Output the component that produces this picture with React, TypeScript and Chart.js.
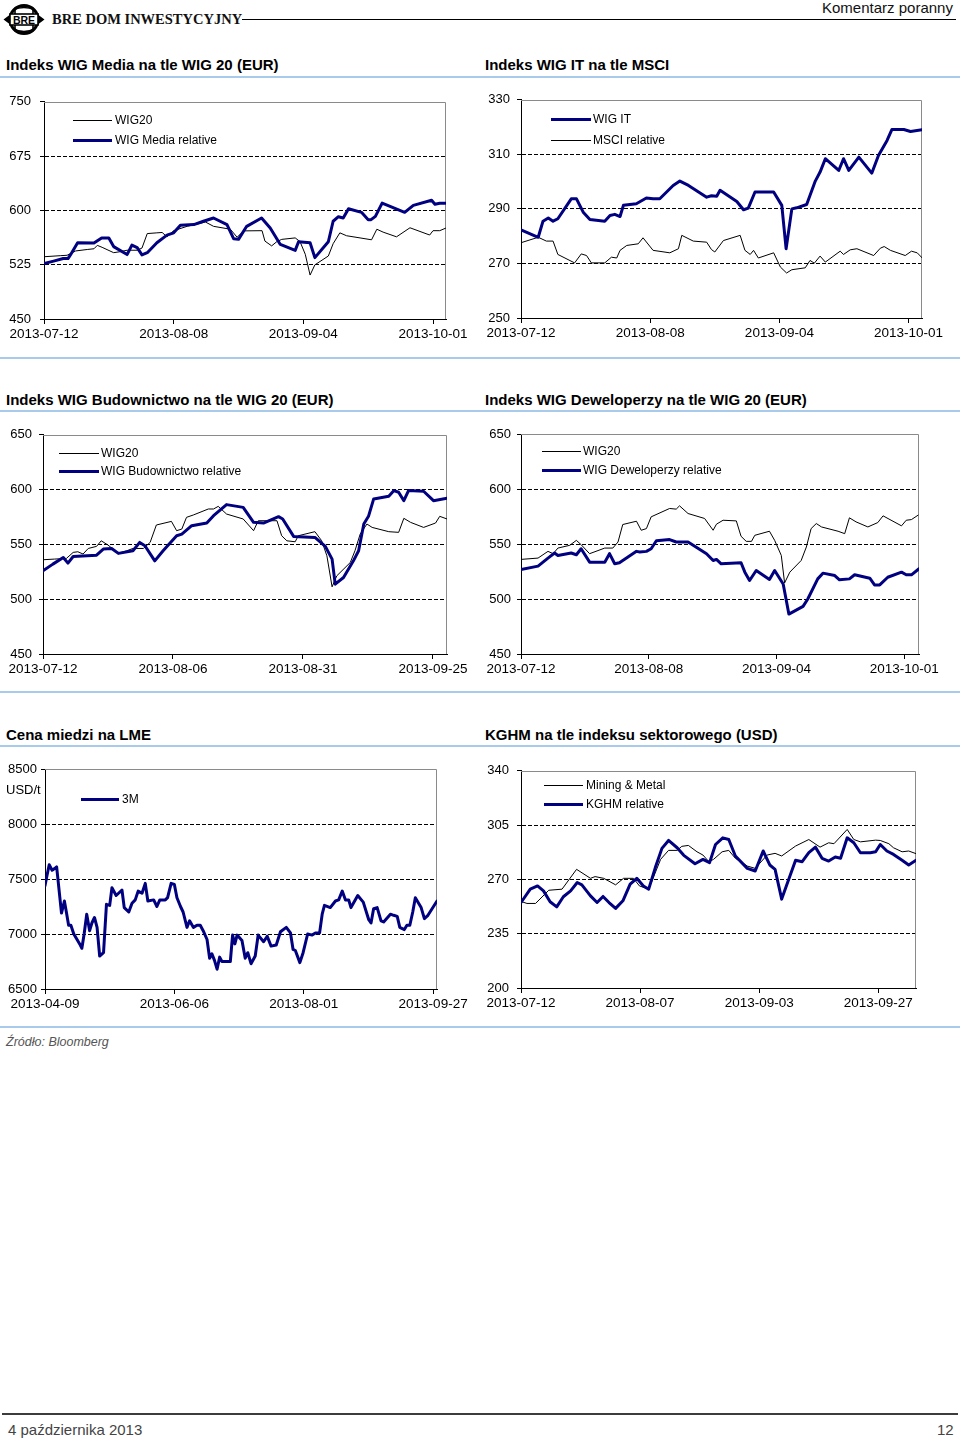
import React, { useEffect, useRef } from 'react';
import { Chart, registerables } from 'chart.js';

Chart.register(...registerables);

const FONT = '"Liberation Sans", Arial, Helvetica, sans-serif';
const NAVY = '#000080';
const BLACK = '#000000';

// ---------------- DATA ----------------
// x = day offset from first date on the axis, y = value
type Pt = [number, number];

// Chart 1: WIG Media vs WIG20 (EUR)
const mediaTickPos = [0, 27, 54, 81];
const mediaTickLabels = ['2013-07-12', '2013-08-08', '2013-09-04', '2013-10-01'];
const mediaYTicks = [450, 525, 600, 675, 750];
const mediaWig20: Pt[] = [
  [0, 536], [3.5, 537.5], [4.8, 538], [6.6, 544], [9, 546], [10.4, 547], [11.1, 551.7], [12.1, 549], [14.5, 541.6], [15.9, 543],
  [17.3, 545], [19.4, 545], [20.4, 548], [21.5, 568], [23.5, 569], [24.6, 569.5], [25.6, 563.5], [27, 572], [29.8, 578], [32.5, 582],
  [33.6, 584], [35.3, 578], [38.8, 574], [40.2, 563], [41.6, 571.7], [45.4, 572], [46, 557.6], [47.4, 551], [48.5, 557], [49.5, 560],
  [52.3, 562], [53.3, 557], [54.4, 539.4], [55.4, 510.7], [56.4, 524.8], [59.2, 537], [60.2, 554], [61.6, 569], [63, 565], [65.8, 562],
  [68.2, 559.4], [69.3, 574], [70.6, 570], [73.4, 563.5], [76.2, 576], [80.3, 566], [81, 572], [82.4, 572], [83.6, 575.4],
];
const mediaRelative: Pt[] = [
  [0, 526.6], [2, 530], [4, 533.5], [5, 533.5], [5.5, 538.5], [7, 555.3], [10.4, 555], [12, 562], [13.5, 562], [14.5, 550],
  [17.3, 539], [18.3, 552], [19.4, 548.5], [20.4, 538.5], [21.5, 541.6], [23.5, 555.3], [25.6, 565.8], [27, 569], [28.4, 579.5], [31.2, 580.4],
  [33.2, 585], [35.3, 589.5], [38.1, 580.4], [39.5, 560.8], [40.5, 560], [42.2, 578], [45.3, 589.5], [47.1, 575.8], [49.2, 553], [52.3, 544.8],
  [53, 556.7], [55.4, 555.3], [56.4, 534.8], [59.2, 556.7], [60.2, 585], [61.3, 591.3], [62.3, 589.5], [63.4, 602.3], [66.1, 597.3], [67.5, 587.2],
  [68.1, 587.2], [69, 591.8], [70.4, 610], [75.1, 597.3], [76.9, 607], [80.7, 614.1], [81.4, 608.6], [82.4, 610], [83.6, 610],
];

// Chart 2: WIG IT vs MSCI
const itTickPos = [0, 27, 54, 81];
const itTickLabels = ['2013-07-12', '2013-08-08', '2013-09-04', '2013-10-01'];
const itYTicks = [250, 270, 290, 310, 330];
const wigIt: Pt[] = [
  [0, 282.3], [3.6, 279.6], [4.6, 285.5], [5.7, 286.7], [6.7, 285.5], [7.7, 286.4], [10.5, 293.7], [11.6, 293.7], [13, 288.8], [14.4, 286.1],
  [17.5, 285.5], [18.6, 287.6], [19.6, 288], [20.7, 287.2], [21.4, 291.3], [24.1, 291.9], [26.2, 294], [27.6, 293.7], [29, 293.7], [31.8, 298.6],
  [33.2, 300.2], [35, 298.6], [38.8, 294.3], [39.8, 294.8], [40.9, 294.6], [41.6, 296.8], [45.1, 292.7], [46.5, 289.7], [47.5, 290.3], [48.9, 296.2],
  [52.8, 296.2], [54.5, 291.3], [55.4, 275.4], [56.6, 290], [57.6, 290.4], [59.7, 291.6], [61.5, 300.2], [62.5, 303.5], [63.6, 308.4], [66.4, 304.1],
  [67.4, 308.4], [68.5, 304.1], [70.6, 309], [73.3, 303.1], [74.7, 309.6], [76.5, 315.1], [77.5, 319.1], [80, 319.1], [81.4, 318.4], [83.8, 319],
];
const msciRelative: Pt[] = [
  [0, 277.6], [3.6, 279.6], [5.3, 278.2], [6.7, 278.2], [7.7, 273.3], [11.2, 270.2], [12.6, 273.5], [13.7, 272.9], [14.7, 270.2], [17.5, 270.2],
  [18.9, 272.3], [20, 272], [20.7, 274.8], [22.1, 276.6], [24.5, 277.2], [25.5, 279.4], [27.6, 274.8], [31.1, 273.9], [32.9, 275.4], [33.6, 280.3],
  [36, 278.2], [38.8, 277.8], [39.8, 275.1], [40.5, 274.2], [42.3, 278.4], [45.8, 280.3], [46.8, 274.8], [47.9, 273.3], [48.6, 274.8], [49.6, 272],
  [52.8, 273.9], [54.2, 268.7], [55.5, 266.5], [56.6, 267.7], [59.4, 268.4], [60.4, 271.1], [61.3, 270.1], [62.5, 272.7], [63.6, 270.5], [66.7, 274.5],
  [67.4, 273.3], [68.8, 275], [70.2, 275.4], [73.7, 272.9], [75.1, 275.6], [75.9, 276.2], [77.2, 274.8], [80.3, 272.9], [81.6, 274.5], [82.8, 273.9],
  [83.8, 272.1],
];

// Chart 3: WIG Budownictwo vs WIG20 (EUR)
const budTickPos = [0, 25, 50, 75];
const budTickLabels = ['2013-07-12', '2013-08-06', '2013-08-31', '2013-09-25'];
const budYTicks = [450, 500, 550, 600, 650];
const budWig20: Pt[] = [
  [0, 536], [2.2, 536.6], [4.5, 537.2], [5.8, 542.7], [6.7, 543.3], [7.7, 541.2], [8.7, 546.3], [10.3, 548.2], [11.2, 553.3], [12.5, 549.4],
  [14.5, 541.8], [16.1, 544.2], [17.3, 546.3], [19.3, 546.3], [20.6, 551.8], [21.8, 567.7], [24.7, 571], [25.7, 562.5], [26.7, 564], [27.6, 574.7],
  [28.9, 576.8], [31.8, 582.3], [32.8, 582.3], [33.7, 584.7], [35.3, 577.7], [38.5, 573.2], [40.5, 562.5], [41.4, 571.6], [45, 571.6], [45.9, 557.9],
  [46.9, 553.3], [48.5, 552.4], [49.1, 557.9], [52.3, 561.6], [53.6, 553.3], [54.6, 539.6], [55.6, 511.3], [56.5, 521.3], [59.1, 533.5], [60, 544.2],
  [61, 559.4], [62.3, 568.6], [63.3, 565.5], [66.5, 561.6], [68.4, 561], [69.4, 573.8], [70.7, 570.1], [73.2, 565.5], [75.5, 569.5], [76.3, 575.6],
  [77.7, 573.2],
];
const budRelative: Pt[] = [
  [0, 525.9], [1.9, 532], [3.9, 538.1], [4.8, 532.9], [5.8, 539], [10.3, 540.2], [11.6, 545.7], [13.2, 546.3], [14.5, 541.8], [17.3, 544.2],
  [18.6, 551.8], [19.6, 548.8], [21.5, 535], [23.1, 544.2], [25.7, 557.9], [26.7, 559.4], [28.6, 567.1], [31.5, 569.5], [32.8, 576.2], [35.3, 586.3],
  [38.5, 583.8], [40.5, 570.1], [42.4, 569.5], [45.3, 575.3], [46.1, 573.2], [48.2, 557.3], [52.3, 556.4], [54.3, 548.2], [55.6, 536.6], [56.2, 513.7],
  [57.8, 519.8], [59.7, 535], [60.7, 544.2], [61.7, 568.6], [62.6, 575.6], [63.6, 591.5], [66.5, 593.9], [67.5, 599.1], [68.4, 597.6], [69.4, 589.9],
  [70.3, 599.1], [73.2, 598.5], [75.1, 589.9], [77.7, 592.1],
];

// Chart 4: WIG Deweloperzy vs WIG20 (EUR)
const dewTickPos = [0, 27, 54, 81];
const dewTickLabels = ['2013-07-12', '2013-08-08', '2013-09-04', '2013-10-01'];
const dewYTicks = [450, 500, 550, 600, 650];
const dewWig20: Pt[] = [
  [0, 536], [3.6, 537.2], [5.7, 543.3], [6.8, 541.2], [7.8, 546.3], [10.3, 548.8], [11.7, 553.3], [12.7, 549.4], [14.5, 541.2], [17.7, 546.3],
  [19.4, 546.3], [20.5, 551.8], [21.5, 567.7], [24.4, 570.7], [25.4, 562.5], [26.5, 564], [27.5, 574.7], [31.4, 582.3], [32.8, 581.7], [33.5, 584.7],
  [35.3, 577.7], [38.8, 573.2], [40.6, 562.5], [41.3, 568], [42.7, 571.6], [45.5, 571], [46.5, 557], [47.6, 552.4], [48.7, 552.4], [49.4, 557.9],
  [52.5, 561.6], [53.6, 553.3], [55, 539.6], [55.7, 514.6], [56.8, 524.4], [59.2, 535], [60.3, 547.3], [61.3, 564], [62.4, 568.6], [63.5, 565.5],
  [67, 561.6], [68.4, 559.4], [69.4, 573.8], [70.8, 570.1], [73.3, 565.5], [75.4, 569.5], [76.5, 575.6], [80.4, 566.5], [81.4, 571.6], [82.5, 572.2],
  [83.9, 576.2],
];
const dewRelative: Pt[] = [
  [0, 526.8], [3.6, 529.9], [5.7, 537.2], [7.1, 541.8], [7.8, 539.6], [10.6, 541.8], [11.7, 540.2], [12.7, 545.7], [14.5, 533.5], [17.7, 533.5],
  [18.7, 541.2], [19.8, 532], [20.8, 532.9], [24.4, 543.3], [25.1, 542.7], [26.5, 543.3], [27.5, 545.7], [28.6, 553], [31.4, 554], [32.8, 551.8],
  [35.3, 551.8], [39.2, 541.2], [40.6, 535], [41.3, 536], [42.3, 532], [46.5, 532.9], [47.3, 524.4], [48.3, 516.8], [49.7, 525.9], [52.5, 517.7],
  [53.6, 525.9], [55.4, 513.7], [56.6, 486.3], [59.6, 493.3], [60.6, 500], [62.7, 518.3], [63.8, 523.5], [66.3, 521.3], [67.3, 517.4], [69.4, 518.3],
  [70.5, 522], [73.7, 518.9], [74.7, 512.8], [75.8, 512.8], [77.5, 519.8], [80.4, 524.4], [81.4, 522], [82.5, 522], [84.1, 527.5],
];

// Chart 5: Copper LME 3M (USD/t), x = trading session index
const cuTickPos = [0, 40, 80, 120];
const cuTickLabels = ['2013-04-09', '2013-06-06', '2013-08-01', '2013-09-27'];
const cuYTicks = [6500, 7000, 7500, 8000, 8500];
const copper3M: Pt[] = [
  [0, 7440], [0.6, 7530], [1.3, 7630], [2.2, 7580], [3.2, 7600], [3.6, 7610], [5.1, 7190], [6, 7300], [6.6, 7200], [7.3, 7080],
  [8, 7080], [8.9, 7000], [9.9, 6950], [10.9, 6900], [11.4, 6870], [12.1, 7000], [12.9, 7180], [13.8, 7030], [14.5, 7100], [15.3, 7150],
  [16.1, 7060], [16.9, 6800], [18.1, 6830], [19, 7270], [20, 7260], [20.7, 7420], [22, 7350], [23.8, 7400], [24.5, 7240], [25.9, 7200],
  [26.9, 7280], [27.9, 7310], [28.8, 7390], [30, 7370], [31, 7460], [31.8, 7300], [33.6, 7310], [34.6, 7250], [35.5, 7310], [37.2, 7310],
  [37.9, 7330], [39, 7460], [40, 7450], [40.8, 7330], [41.9, 7250], [42.7, 7200], [43.9, 7060], [44.7, 7120], [45.9, 7060], [47, 7080],
  [48, 7080], [48.9, 7030], [50.1, 6950], [50.9, 6780], [51.6, 6820], [52.4, 6760], [53.2, 6680], [54, 6790], [54.7, 6750], [57.3, 6750],
  [58, 6990], [58.7, 6910], [59.4, 6990], [60.9, 6940], [61.9, 6780], [62.7, 6830], [63.7, 6730], [65, 6800], [65.9, 6990], [67.6, 6930],
  [68.7, 6980], [69.9, 6890], [71.5, 6900], [72.8, 7020], [74.6, 7060], [75.9, 7010], [76.7, 6860], [77.4, 6850], [78.8, 6740], [79.8, 6830],
  [81.2, 7000], [82.6, 6990], [83.6, 7010], [84.9, 7010], [85.7, 7180], [86.4, 7260], [88.2, 7240], [89.8, 7300], [90.8, 7310], [91.9, 7390],
  [92.9, 7310], [93.9, 7310], [94.6, 7240], [96.7, 7350], [98.4, 7290], [100.1, 7130], [100.8, 7100], [101.6, 7230], [102.7, 7240], [103.9, 7120],
  [104.7, 7110], [106.8, 7180], [107.8, 7170], [108.9, 7160], [109.7, 7060], [111.1, 7040], [111.9, 7080], [112.8, 7080], [113.7, 7200], [114.5, 7330],
  [116.3, 7240], [117.3, 7140], [118.4, 7170], [121.2, 7300],
];

// Chart 6: KGHM vs Mining & Metal (USD), x = trading session index
const kgTickPos = [0, 18, 36, 54];
const kgTickLabels = ['2013-07-12', '2013-08-07', '2013-09-03', '2013-09-27'];
const kgYTicks = [200, 235, 270, 305, 340];
const miningMetal: Pt[] = [
  [0, 255.8], [0.9, 254.5], [2.2, 254.5], [4.2, 263], [6.2, 263.7], [8.4, 276.5], [10.5, 270.7], [11.2, 271.8], [12.5, 270.7], [14.3, 266.5],
  [15.5, 270.7], [17, 270.7], [17.9, 265.8], [19.3, 263.7], [21.1, 282.9], [22.3, 288.7], [23.6, 288.7], [24.3, 291.3], [25.3, 291.9], [26.6, 287.8],
  [27.5, 285.7], [28.4, 281.4], [29.1, 282.9], [30.4, 287.8], [31.4, 288.7], [32.4, 283.6], [34.2, 278.6], [35.4, 277.1], [37.2, 285.7], [38.4, 286.8],
  [39.4, 285.1], [41.5, 291.5], [43.5, 295.7], [45.2, 290.8], [46.5, 293.6], [47.3, 293], [49.3, 302.2], [50.3, 295.7], [51.3, 294.2], [53.6, 295.3],
  [54.3, 295.1], [55.6, 293], [56.3, 290.4], [57.6, 287.8], [58.6, 288.3], [59.7, 286.6],
];
const kghmRelative: Pt[] = [
  [0, 255.1], [1.4, 263.7], [2.5, 265.8], [3.4, 262.6], [4.4, 255.6], [5.4, 252.3], [6.4, 258.8], [7.5, 262.6], [8.5, 268], [9.2, 266.5],
  [10.5, 259.4], [11.5, 255.1], [12.4, 259], [13.3, 255.1], [14.3, 251.3], [15.4, 256.2], [16.5, 266.9], [17.5, 270.7], [18.5, 265.8], [19.3, 263.7],
  [20.3, 277.6], [21.3, 290], [22.3, 295.1], [23.6, 290.4], [24.6, 285.5], [26.3, 280.1], [27.5, 282.9], [28.5, 280.8], [29.4, 292.5], [30.5, 296.8],
  [31.4, 295.7], [32.4, 285.1], [34.2, 277.1], [35.4, 275.4], [36.6, 288.3], [37.6, 279.3], [38.4, 276.5], [39.4, 257.3], [41.5, 282.3], [42.5, 281.4],
  [43.5, 287.2], [44.5, 290.8], [45.5, 283.6], [46.5, 281.8], [47.5, 284.4], [48.3, 283.6], [49.3, 296.8], [50.3, 293.6], [51.3, 287.2], [52.8, 287.2],
  [53.6, 287.8], [54.3, 292.5], [55.3, 288.3], [56.3, 286.1], [57.6, 282.3], [58.6, 279.3], [59.7, 282.3],
];

// ---------------- LAYOUT / CHART SPECS ----------------
interface Series { label: string; pts: Pt[]; color: string; width: number; }
interface LegendRow { label: string; color: string; width: number; y: number; }
interface Spec {
  box: { left: number; top: number; width: number; height: number };
  plot: { left: number; top: number; right: number; bottom: number };
  yTicks: number[];
  yPad: number;
  xMax: number;
  xTicks: number[];
  xLabels: string[];
  series: Series[];
  legend: { x1: number; x2: number; tx: number; rows: LegendRow[] };
}

const thin = (label: string, pts: Pt[]): Series => ({ label, pts, color: BLACK, width: 1 });
const thick = (label: string, pts: Pt[]): Series => ({ label, pts, color: NAVY, width: 3 });

const specs: Spec[] = [
  {
    box: { left: 0, top: 85, width: 480, height: 265 },
    plot: { left: 44, top: 100, right: 446, bottom: 319 },
    yTicks: mediaYTicks, yPad: 9, xMax: 83.7, xTicks: mediaTickPos, xLabels: mediaTickLabels,
    series: [thick('WIG Media relative', mediaRelative), thin('WIG20', mediaWig20)],
    legend: { x1: 73, x2: 112, tx: 115, rows: [
      { label: 'WIG20', color: BLACK, width: 1, y: 120 },
      { label: 'WIG Media relative', color: NAVY, width: 3, y: 140 },
    ] },
  },
  {
    box: { left: 480, top: 85, width: 480, height: 265 },
    plot: { left: 521, top: 99, right: 922, bottom: 318 },
    yTicks: itYTicks, yPad: 7, xMax: 83.8, xTicks: itTickPos, xLabels: itTickLabels,
    series: [thick('WIG IT', wigIt), thin('MSCI relative', msciRelative)],
    legend: { x1: 551, x2: 591, tx: 593, rows: [
      { label: 'WIG IT', color: NAVY, width: 3, y: 119 },
      { label: 'MSCI relative', color: BLACK, width: 1, y: 140 },
    ] },
  },
  {
    box: { left: 0, top: 420, width: 480, height: 265 },
    plot: { left: 43, top: 434, right: 447, bottom: 654 },
    yTicks: budYTicks, yPad: 7, xMax: 77.7, xTicks: budTickPos, xLabels: budTickLabels,
    series: [thick('WIG Budownictwo relative', budRelative), thin('WIG20', budWig20)],
    legend: { x1: 59, x2: 99, tx: 101, rows: [
      { label: 'WIG20', color: BLACK, width: 1, y: 453 },
      { label: 'WIG Budownictwo relative', color: NAVY, width: 3, y: 471 },
    ] },
  },
  {
    box: { left: 480, top: 420, width: 480, height: 265 },
    plot: { left: 521, top: 434, right: 919, bottom: 654 },
    yTicks: dewYTicks, yPad: 6, xMax: 84.1, xTicks: dewTickPos, xLabels: dewTickLabels,
    series: [thick('WIG Deweloperzy relative', dewRelative), thin('WIG20', dewWig20)],
    legend: { x1: 542, x2: 581, tx: 583, rows: [
      { label: 'WIG20', color: BLACK, width: 1, y: 451 },
      { label: 'WIG Deweloperzy relative', color: NAVY, width: 3, y: 470 },
    ] },
  },
  {
    box: { left: 0, top: 755, width: 480, height: 265 },
    plot: { left: 45, top: 769, right: 437, bottom: 989 },
    yTicks: cuYTicks, yPad: 4, xMax: 121.2, xTicks: cuTickPos, xLabels: cuTickLabels,
    series: [thick('3M', copper3M)],
    legend: { x1: 81, x2: 119, tx: 122, rows: [
      { label: '3M', color: NAVY, width: 3, y: 799 },
    ] },
  },
  {
    box: { left: 480, top: 755, width: 480, height: 265 },
    plot: { left: 521, top: 769, right: 916, bottom: 988 },
    yTicks: kgYTicks, yPad: 8, xMax: 59.7, xTicks: kgTickPos, xLabels: kgTickLabels,
    series: [thick('KGHM relative', kghmRelative), thin('Mining & Metal', miningMetal)],
    legend: { x1: 544, x2: 583, tx: 586, rows: [
      { label: 'Mining & Metal', color: BLACK, width: 1, y: 785 },
      { label: 'KGHM relative', color: NAVY, width: 3, y: 804 },
    ] },
  },
];

const framePlugin = {
  id: 'grayFrame',
  beforeDatasetsDraw(chart: any) {
    const { ctx, chartArea: a } = chart;
    ctx.save();
    ctx.strokeStyle = '#8a8a8a';
    ctx.lineWidth = 1;
    ctx.beginPath();
    ctx.moveTo(a.left, Math.round(a.top) + 0.5);
    ctx.lineTo(Math.round(a.right) - 0.5, Math.round(a.top) + 0.5);
    ctx.lineTo(Math.round(a.right) - 0.5, a.bottom);
    ctx.stroke();
    ctx.restore();
  },
};

function ChartPanel({ spec }: { spec: Spec }) {
  const ref = useRef<HTMLCanvasElement>(null);
  useEffect(() => {
    const canvas = ref.current;
    if (!canvas) return;
    const { box, plot } = spec;
    const yMin = spec.yTicks[0];
    const yMax = spec.yTicks[spec.yTicks.length - 1];
    const chart = new Chart(canvas, {
      type: 'line',
      data: {
        datasets: spec.series.map((s) => ({
          label: s.label,
          data: s.pts.map(([x, y]) => ({ x, y })),
          borderColor: s.color,
          backgroundColor: s.color,
          borderWidth: s.width,
          pointRadius: 0,
          pointHoverRadius: 0,
          tension: 0,
          fill: false,
          borderJoinStyle: 'round',
          borderCapStyle: 'round',
        })),
      },
      options: {
        responsive: false,
        animation: false,
        events: [],
        layout: {
          padding: {
            top: plot.top - box.top,
            right: box.left + box.width - plot.right,
            left: 0,
            bottom: 0,
          },
        },
        plugins: { legend: { display: false }, tooltip: { enabled: false } },
        scales: {
          x: {
            type: 'linear',
            min: 0,
            max: spec.xMax,
            afterBuildTicks: (a: any) => { a.ticks = spec.xTicks.map((v) => ({ value: v })); },
            afterFit: (a: any) => { a.height = box.top + box.height - plot.bottom; },
            ticks: {
              autoSkip: false,
              maxRotation: 0,
              minRotation: 0,
              padding: 2,
              color: '#000',
              font: { family: FONT, size: 13.5 },
              callback: (v: any) => {
                const i = spec.xTicks.indexOf(Number(v));
                return i >= 0 ? spec.xLabels[i] : '';
              },
            },
            grid: { drawOnChartArea: false, drawTicks: true, tickLength: 5, tickColor: '#000', tickWidth: 1 },
            border: { display: true, color: '#000', width: 1 },
          },
          y: {
            type: 'linear',
            min: yMin,
            max: yMax,
            afterBuildTicks: (a: any) => { a.ticks = spec.yTicks.map((v) => ({ value: v })); },
            afterFit: (a: any) => { a.width = plot.left - box.left; },
            ticks: {
              padding: spec.yPad,
              color: '#000',
              font: { family: FONT, size: 13 },
              callback: (v: any) => String(v),
            },
            grid: {
              color: (c: any) => (c.tick && c.tick.value > yMin && c.tick.value < yMax ? '#000' : 'rgba(0,0,0,0)'),
              lineWidth: 1,
              drawTicks: true,
              tickLength: 4,
              tickColor: '#000',
              tickWidth: 1,
              tickBorderDash: [],
            },
            border: { display: true, color: '#000', width: 1, dash: [4, 2] },
          },
        },
      },
      plugins: [framePlugin],
    } as any);
    return () => chart.destroy();
  }, [spec]);

  return (
    <canvas
      ref={ref}
      width={spec.box.width}
      height={spec.box.height}
      style={{ position: 'absolute', left: spec.box.left, top: spec.box.top, width: spec.box.width, height: spec.box.height }}
    />
  );
}

function LegendOverlay({ spec }: { spec: Spec }) {
  const { x1, x2, tx, rows } = spec.legend;
  return (
    <>
      {rows.map((r) => (
        <React.Fragment key={r.label}>
          <div style={{ position: 'absolute', left: x1, top: r.y - r.width / 2, width: x2 - x1, height: r.width, background: r.color }} />
          <div style={{ position: 'absolute', left: tx, top: r.y - 8, height: 16, lineHeight: '16px', fontSize: 12, fontFamily: FONT, color: '#000', whiteSpace: 'nowrap' }}>
            {r.label}
          </div>
        </React.Fragment>
      ))}
    </>
  );
}

const sectionTitles = [
  { text: 'Indeks WIG Media na tle WIG 20 (EUR)', left: 6, y: 65 },
  { text: 'Indeks WIG IT na tle MSCI', left: 485, y: 65 },
  { text: 'Indeks WIG Budownictwo na tle WIG 20 (EUR)', left: 6, y: 400 },
  { text: 'Indeks WIG Deweloperzy na tle WIG 20 (EUR)', left: 485, y: 400 },
  { text: 'Cena miedzi na LME', left: 6, y: 735 },
  { text: 'KGHM na tle indeksu sektorowego (USD)', left: 485, y: 735 },
];
const blueRules = [77, 358, 411, 692, 746, 1027];

function Text({ left, y, size, children, style }: any) {
  return (
    <div style={{ position: 'absolute', left, top: y - size * 0.6, height: size * 1.2, lineHeight: `${size * 1.2}px`, fontSize: size, fontFamily: FONT, whiteSpace: 'nowrap', ...style }}>
      {children}
    </div>
  );
}

export default function App() {
  return (
    <div style={{ position: 'absolute', left: 0, top: 0, width: 960, height: 1442, background: '#fff', overflow: 'hidden' }}>
      {/* Header */}
      <svg style={{ position: 'absolute', left: 3, top: 2 }} width="42" height="35" viewBox="0 0 42 35">
        <circle cx="21" cy="17.5" r="14" fill="none" stroke="#000" strokeWidth="3" />
        <path d="M10 8 Q21 3 32 8 M10 27 Q21 32 32 27 M12 5.5 L12 29.5 M30 5.5 L30 29.5" stroke="#000" strokeWidth="1.6" fill="none" />
        <rect x="7" y="12" width="28" height="11" fill="#fff" stroke="#000" strokeWidth="1.6" />
        <text x="21" y="21.5" textAnchor="middle" fontFamily={FONT} fontWeight="bold" fontSize="10.5" fill="#000">BRE</text>
        <path d="M0.5 17.5 L6.5 13 L6.5 22 Z M41.5 17.5 L35.5 13 L35.5 22 Z" fill="#000" />
      </svg>
      <Text left={52} y={20} size={14.5} style={{ fontFamily: '"Liberation Serif", "Times New Roman", serif', fontWeight: 'bold', color: '#111' }}>
        BRE DOM INWESTYCYJNY
      </Text>
      <div style={{ position: 'absolute', left: 242, top: 19, width: 714, height: 1, background: '#000' }} />
      <Text left={822} y={8} size={15} style={{ color: '#111' }}>Komentarz poranny</Text>

      {/* Section titles and rules */}
      {sectionTitles.map((t) => (
        <Text key={t.text} left={t.left} y={t.y} size={15} style={{ fontWeight: 'bold', color: '#000' }}>{t.text}</Text>
      ))}
      {blueRules.map((y) => (
        <div key={y} style={{ position: 'absolute', left: 0, top: y - 1, width: 960, height: 2, background: '#a9cbeb' }} />
      ))}

      {/* Charts */}
      {specs.map((s, i) => (
        <ChartPanel key={i} spec={s} />
      ))}
      {specs.map((s, i) => (
        <LegendOverlay key={'l' + i} spec={s} />
      ))}
      <Text left={6} y={790} size={13} style={{ color: '#000' }}>USD/t</Text>

      {/* Source */}
      <Text left={6} y={1042} size={12.5} style={{ fontStyle: 'italic', color: '#555' }}>Źródło: Bloomberg</Text>

      {/* Footer */}
      <div style={{ position: 'absolute', left: 2, top: 1413, width: 956, height: 2, background: '#3c3c3c' }} />
      <Text left={8} y={1430} size={15} style={{ color: '#444' }}>4 października 2013</Text>
      <Text left={937} y={1430} size={15} style={{ color: '#444' }}>12</Text>
    </div>
  );
}
